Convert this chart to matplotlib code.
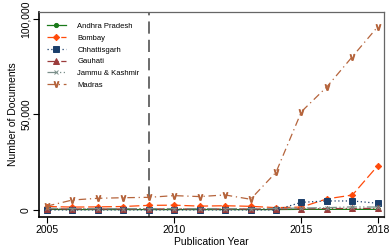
import matplotlib
matplotlib.use("Agg")
import matplotlib.pyplot as plt
from matplotlib.ticker import FuncFormatter

plt.rcParams['font.family'] = ['Liberation Sans', 'DejaVu Sans']

years = list(range(2005, 2019))

# documents per court per year
andhra = [300, 200, 200, 200, 200, 200, 200, 200, 200, 200, 300, 300, 300, 300]
bombay = [1800, 1500, 1600, 1800, 2400, 2500, 2000, 2200, 1900, 1200, 1500, 5800, 7800, 23200]
chhattisgarh = [0, 0, 0, 0, 0, 0, 0, 0, 0, 0, 4000, 4700, 4700, 3500]
gauhati = [600, 500, 500, 500, 500, 500, 500, 500, 500, 500, 600, 700, 800, 800]
jammu = [900, 700, 700, 700, 700, 700, 700, 700, 700, 800, 1000, 1200, 1600, 1500]
madras = [2000, 5200, 6100, 6400, 6600, 7500, 7000, 7850, 5600, 19700, 51500, 64500, 80300, 96000]

series = [
    ("Andhra Pradesh", andhra, "#1a7a1a", "-", "o", 3),
    ("Bombay", bombay, "#ff4a0a", (0, (8, 3)), "D", 3.2),
    ("Chhattisgarh", chhattisgarh, "#1b3f6b", (0, (1, 2)), "s", 3.8),
    ("Gauhati", gauhati, "#9b3b3b", (0, (6, 2, 1, 2)), "^", 3.8),
    ("Jammu & Kashmir", jammu, "#7a8f8a", (0, (8, 2, 1, 2, 1, 2)), "x", 2.8),
    ("Madras", madras, "#b5643c", (0, (6, 3, 1, 3)), "$\\vee$", 4.2),
]

fig = plt.figure(figsize=(3.89, 2.49), dpi=100)
ax = fig.add_axes([0.1003, 0.1285, 0.8867, 0.8235])

ax.axvline(2009, color="#444444", lw=1.1, ls=(0, (8, 4)))

for name, vals, col, ls, mk, ms in series:
    ax.plot(years, vals, color=col, ls=ls, lw=0.9, marker=mk, markersize=ms,
            markeredgewidth=0.7, label=name)

ax.set_xlim(2004.69, 2018.24)
ax.set_ylim(-3700, 103700)
ax.set_xticks([2005, 2010, 2015, 2018])
ax.set_yticks([0, 50000, 100000])
ax.yaxis.set_major_formatter(FuncFormatter(lambda v, p: f"{int(v):,}"))
ax.tick_params(axis="both", labelsize=7.5, length=4, width=0.8, pad=2)
for lab in ax.get_yticklabels():
    lab.set_rotation(90)
    lab.set_va("center")

ax.set_xlabel("Publication Year", fontsize=7.5, labelpad=1)
ax.set_ylabel("Number of Documents", fontsize=7.5, labelpad=2)

for s in ["left", "bottom"]:
    ax.spines[s].set_color("black")
    ax.spines[s].set_linewidth(1.2)
for s in ["top", "right"]:
    ax.spines[s].set_color("#666666")
    ax.spines[s].set_linewidth(0.9)

ax.legend(loc="upper left", frameon=False, fontsize=5.5, handlelength=2.5,
          labelspacing=0.58, borderaxespad=0.6, handletextpad=1.5,
          bbox_to_anchor=(0.0, 0.985))

fig.savefig("out.png", dpi=100)
